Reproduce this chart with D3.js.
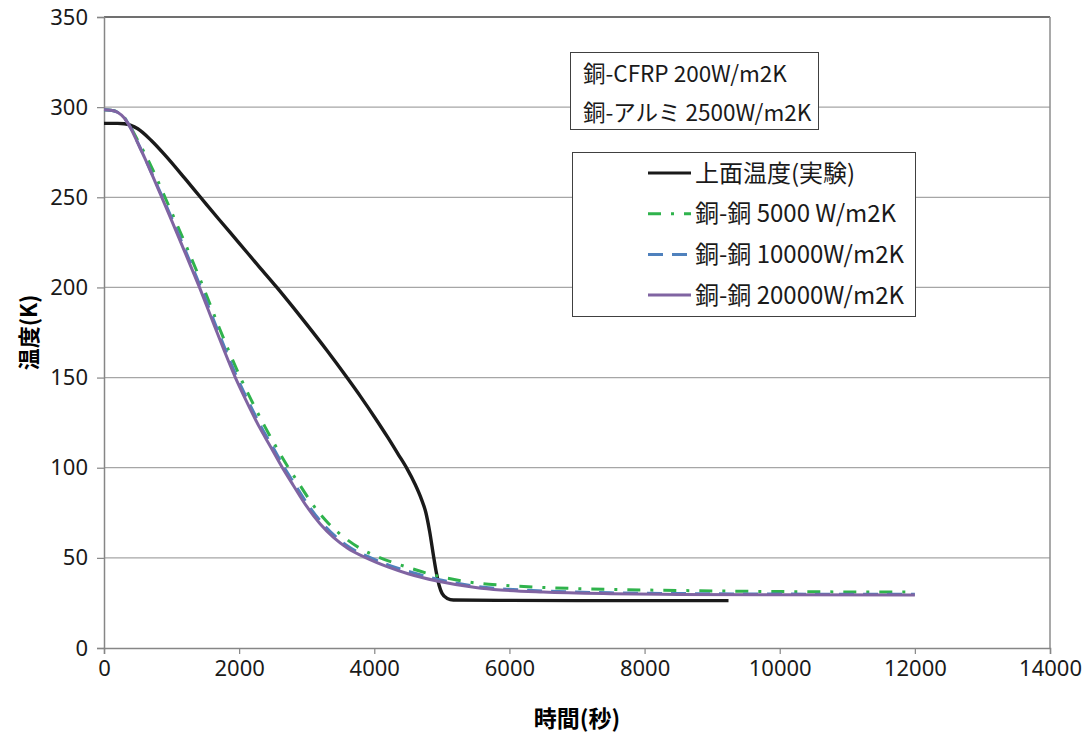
<!DOCTYPE html>
<html>
<head>
<meta charset="utf-8">
<script src="https://cdn.jsdelivr.net/npm/d3@7"></script>
<style>
  body { margin: 0; background: #fff; }
  text { font-family: "Noto Sans CJK JP", "Noto Sans", sans-serif; }
</style>
</head>
<body>
<div id="chart"></div>
<script>
// 上面温度(実験)
const expTime = [0, 200, 300, 500, 700, 900, 1200, 1422, 1700, 2000, 2300, 2558, 2800, 3000, 3300, 3596, 3800, 4000, 4200, 4350, 4484, 4600, 4700, 4762, 4820, 4879, 4920, 4960, 5003, 5080, 5170, 6000, 7000, 8000, 9242];
const expTemp = [291, 291, 290.8, 288, 281.5, 273.5, 260.3, 250.3, 237.8, 224.6, 211.3, 200, 188.9, 179.5, 165, 150, 139.3, 128.3, 116.8, 107.7, 99.5, 91.1, 82.3, 75.3, 64.5, 50.5, 41.5, 34.7, 30.3, 27.5, 26.6, 26.4, 26.3, 26.3, 26.3];

// 銅-銅 5000 W/m2K
const time5000 = [0, 100, 200, 300, 400, 500, 600, 700, 800, 903, 1050, 1250, 1471, 1710, 2015, 2180, 2385, 2540, 2730, 2900, 3110, 3330, 3560, 3780, 4089, 4450, 4929, 5570, 5870, 6500, 7500, 8500, 10000, 12000];
const temp5000 = [298.5, 298.3, 297.3, 294.3, 288.5, 281.5, 274.5, 267, 258.8, 250, 237.5, 220, 200, 177.2, 150.3, 137.5, 122.5, 112, 100, 90.3, 78.5, 68.8, 61.2, 55.5, 50, 45.3, 40, 35.8, 34.9, 33.6, 32.5, 31.9, 31.3, 31];

// 銅-銅 10000W/m2K
const time10000 = [0, 100, 200, 300, 400, 500, 600, 700, 866, 1015, 1217, 1432, 1672, 1966, 2127, 2328, 2480, 2670, 2832, 3035, 3240, 3445, 3650, 3950, 4290, 4600, 4929, 5500, 5870, 6500, 7500, 8500, 10000, 12000];
const temp10000 = [298.5, 298.3, 297.2, 294.1, 288.2, 280.3, 272.3, 263.8, 250, 237.2, 219.3, 200, 177.2, 150.3, 137.5, 122.5, 112.6, 100, 90.3, 78.5, 68.8, 61.2, 55.5, 50, 45, 41.5, 38.2, 34.3, 32.9, 31.6, 30.6, 30.2, 29.9, 29.8];

// 銅-銅 20000W/m2K
const time20000 = [0, 100, 200, 300, 400, 500, 600, 700, 854, 1000, 1200, 1413, 1650, 1941, 2100, 2300, 2450, 2640, 2800, 3000, 3200, 3400, 3600, 3880, 4200, 4500, 4929, 5500, 5870, 6500, 7500, 8500, 10000, 12000];
const temp20000 = [298.5, 298.3, 297.2, 294, 288, 280, 272, 263.5, 250, 237.2, 219.3, 200, 177.2, 150.3, 137.5, 122.5, 112.6, 100, 90.3, 78.5, 68.8, 61.2, 55.5, 50, 45, 41.2, 37.2, 33.6, 32.2, 31, 30.1, 29.7, 29.5, 29.4];

const xTicks = [0, 2000, 4000, 6000, 8000, 10000, 12000, 14000];
const yTicks = [0, 50, 100, 150, 200, 250, 300, 350];

const noteLines = ["銅-CFRP 200W/m2K", "銅-アルミ 2500W/m2K"];
const seriesNames = ["上面温度(実験)", "銅-銅 5000 W/m2K", "銅-銅 10000W/m2K", "銅-銅 20000W/m2K"];

let width = 1086,
    height = 733,
    margin = {left: 104, top: 17, right: 36, bottom: 85};

let svg = d3.select("#chart")
    .append("svg")
    .attr("width", width)
    .attr("height", height);

let x = d3.scaleLinear()
    .domain([0, 14000])
    .range([margin.left, width - margin.right]);

let y = d3.scaleLinear()
    .domain([0, 350])
    .range([height - margin.bottom, margin.top]);

// grid
svg.append("g")
    .selectAll("line")
    .data(yTicks.slice(1, -1))
    .enter().append("line")
    .attr("x1", x(0)).attr("x2", x(14000))
    .attr("y1", d => y(d)).attr("y2", d => y(d))
    .attr("stroke", "#a6a6a6")
    .attr("stroke-width", 1.3);

// frame top and right
svg.append("line")
    .attr("x1", x(0)).attr("x2", x(14000))
    .attr("y1", y(350)).attr("y2", y(350))
    .attr("stroke", "#404040").attr("stroke-width", 1.3);
svg.append("line")
    .attr("x1", x(14000)).attr("x2", x(14000))
    .attr("y1", y(350)).attr("y2", y(0))
    .attr("stroke", "#8c8c8c").attr("stroke-width", 1.5);

// axes
let xAxis = svg.append("g")
    .attr("transform", "translate(0," + y(0) + ")")
    .call(d3.axisBottom(x).tickValues(xTicks).tickFormat(d3.format("d")).tickSize(6).tickPadding(6));
let yAxis = svg.append("g")
    .attr("transform", "translate(" + x(0) + ",0)")
    .call(d3.axisLeft(y).tickValues(yTicks).tickSize(7).tickPadding(9));

[xAxis, yAxis].forEach(function(ax) {
    ax.select(".domain").attr("stroke", "#868686").attr("stroke-width", 1.5);
    ax.selectAll(".tick line").attr("stroke", "#868686").attr("stroke-width", 1.2);
    ax.selectAll(".tick text")
        .attr("fill", "#1a1a1a")
        .style("font-family", "'Noto Sans', sans-serif")
        .style("font-size", "22px");
});

// axis titles
svg.append("text")
    .attr("x", x(7000))
    .attr("y", 727)
    .attr("text-anchor", "middle")
    .style("font-size", "23px")
    .style("font-weight", "bold")
    .text("時間(秒)");

svg.append("text")
    .attr("transform", "translate(37," + y(175) + ") rotate(-90)")
    .attr("text-anchor", "middle")
    .style("font-size", "22px")
    .style("font-weight", "bold")
    .text("温度(K)");

// lines
let line = d3.line()
    .x(d => x(d[0]))
    .y(d => y(d[1]))
    .curve(d3.curveMonotoneX);

let series = [
    {name: seriesNames[0], time: expTime, vals: expTemp, color: "#1a1a1a", dash: null, w: 3.4},
    {name: seriesNames[1], time: time5000, vals: temp5000, color: "#2fb34c", dash: "13,10,3,10", w: 3},
    {name: seriesNames[2], time: time10000, vals: temp10000, color: "#4f81bd", dash: "15,9", w: 3},
    {name: seriesNames[3], time: time20000, vals: temp20000, color: "#8064a2", dash: null, w: 3}
];

svg.append("g")
    .selectAll("path")
    .data(series)
    .enter().append("path")
    .attr("d", s => line(s.time.map((t, i) => [t, s.vals[i]])))
    .attr("fill", "none")
    .attr("stroke", s => s.color)
    .attr("stroke-width", s => s.w)
    .attr("stroke-dasharray", s => s.dash);

// note box
let note = svg.append("g");
note.append("rect")
    .attr("x", 570.5).attr("y", 52.5)
    .attr("width", 248).attr("height", 77)
    .attr("fill", "#fff")
    .attr("stroke", "#404040");
note.selectAll("text")
    .data(noteLines)
    .enter().append("text")
    .attr("x", 583)
    .attr("y", (d, i) => 82 + i * 39)
    .style("font-size", "22.5px")
    .attr("fill", "#1a1a1a")
    .text(d => d);

// legend
let legend = svg.append("g");
legend.append("rect")
    .attr("x", 572.5).attr("y", 152.5)
    .attr("width", 343).attr("height", 164)
    .attr("fill", "#fff")
    .attr("stroke", "#404040");

let item = legend.selectAll("g.item")
    .data(series)
    .enter().append("g")
    .attr("class", "item")
    .attr("transform", (d, i) => "translate(0," + (173 + i * 40.7) + ")");

item.append("line")
    .attr("x1", 648).attr("x2", 691)
    .attr("y1", 0).attr("y2", 0)
    .attr("stroke", d => d.color)
    .attr("stroke-width", 3)
    .attr("stroke-dasharray", d => d.dash);

item.append("text")
    .attr("x", 695)
    .attr("y", 8.5)
    .style("font-size", "24px")
    .attr("fill", "#1a1a1a")
    .text(d => d.name);
</script>
</body>
</html>
